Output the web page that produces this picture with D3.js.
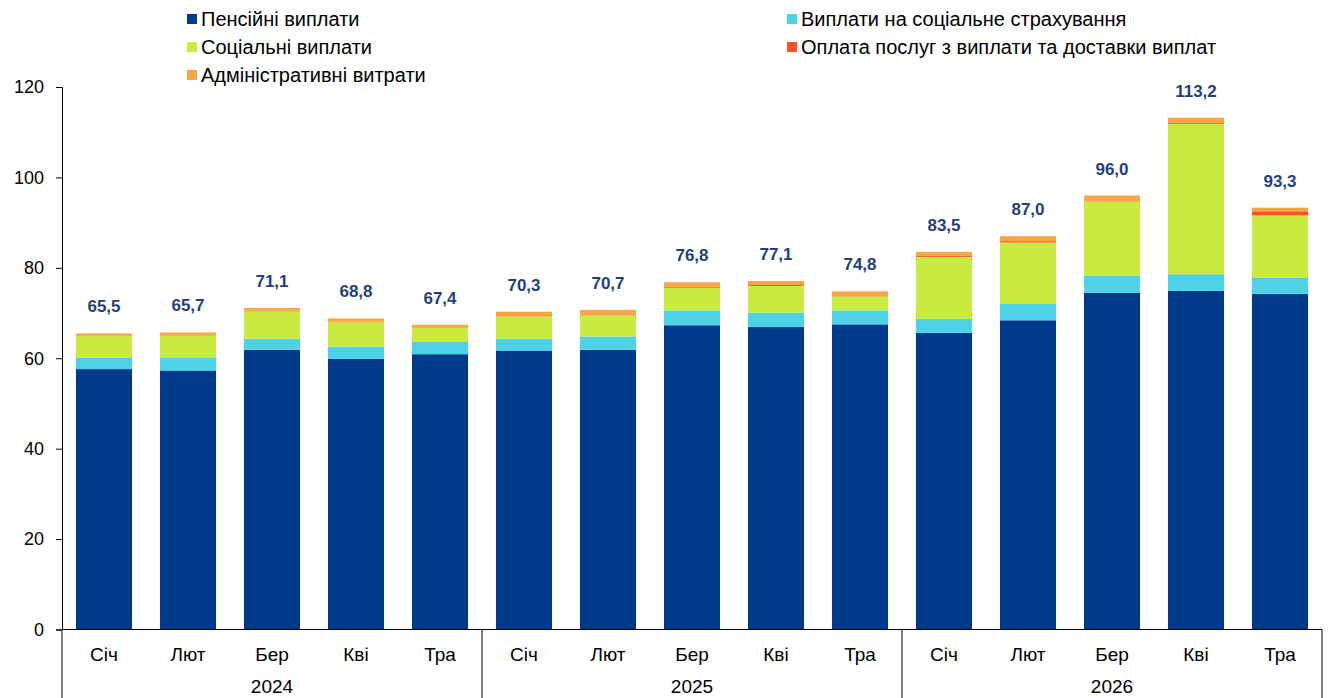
<!DOCTYPE html>
<html><head><meta charset="utf-8">
<script src="https://cdn.jsdelivr.net/npm/d3@7"></script>
<style>body{margin:0;background:#fff}svg{display:block;font-family:"Liberation Sans",Arial,sans-serif}</style>
</head><body><svg id="c" width="1329" height="698"></svg>
<script>
const months = ["Січ","Лют","Бер","Кві","Тра","Січ","Лют","Бер","Кві","Тра","Січ","Лют","Бер","Кві","Тра"];
const years = ["2024","2025","2026"];
const seriesNames = ["Пенсійні виплати","Виплати на соціальне страхування","Соціальні виплати","Оплата послуг з виплати та доставки виплат","Адміністративні витрати"];
const seriesColors = ["#003a8c","#4dd2e6","#c9ea3e","#ff5028","#f8a640"];
const pension   = [57.6,57.3,61.9,59.9,60.9, 61.7,61.9,67.3,66.9,67.5, 65.6,68.4,74.5,74.9,74.2];
const insurance = [2.5,2.9,2.4,2.7,2.7, 2.6,2.9,3.3,3.2,3.1, 3.1,3.6,3.8,3.7,3.6];
const social    = [4.8,4.8,6.1,5.4,3.2, 5.0,4.7,5.0,5.9,3.1, 13.7,13.6,16.4,33.2,13.8];
const services  = [0.1,0.1,0.1,0.1,0.1, 0.2,0.2,0.2,0.2,0.2, 0.2,0.3,0.2,0.2,0.9];
const admin     = [0.5,0.6,0.6,0.7,0.5, 0.8,1.0,1.0,0.9,0.9, 0.9,1.1,1.1,1.2,0.8];
const totals    = ["65,5","65,7","71,1","68,8","67,4","70,3","70,7","76,8","77,1","74,8","83,5","87,0","96,0","113,2","93,3"];
const yTicks = [0,20,40,60,80,100,120];

const svg = d3.select("#c");
const mLeft = 62, mRight = 1322, mTop = 87, mBottom = 629.5;
const idx = months.map((m,i)=>i);
const x = d3.scaleBand().domain(idx).range([mLeft,mRight]).paddingInner(0.333).paddingOuter(0.1665);
const y = d3.scaleLinear().domain([0,120]).range([mBottom,mTop]);

const data = idx.map(i=>({i, s0:pension[i], s1:insurance[i], s2:social[i], s3:services[i], s4:admin[i]}));
const stack = d3.stack().keys(["s0","s1","s2","s3","s4"])(data);

svg.append("g").selectAll("g").data(stack).join("g")
  .attr("fill",(d,k)=>seriesColors[k])
  .selectAll("rect").data(d=>d).join("rect")
  .attr("x",d=>x(d.data.i)).attr("width",x.bandwidth())
  .attr("y",d=>y(d[1])).attr("height",d=>y(d[0])-y(d[1]));

// totals labels
svg.append("g").selectAll("text").data(data).join("text")
  .attr("x",d=>x(d.i)+x.bandwidth()/2)
  .attr("y",d=>y(d.s0+d.s1+d.s2+d.s3+d.s4)-21)
  .attr("text-anchor","middle").attr("font-size",17).attr("font-weight","bold").attr("fill","#1f3f7f")
  .text(d=>totals[d.i]);

// y axis
const ya = svg.append("g").attr("transform",`translate(${mLeft},0)`)
  .call(d3.axisLeft(y).tickValues(yTicks).tickSize(6).tickPadding(12).tickFormat(d3.format("d")));
ya.select(".domain").attr("stroke","#000");
ya.selectAll("line").attr("stroke","#000");
ya.selectAll("text").attr("font-size",18).attr("font-family","Liberation Sans, Arial").attr("fill","#000");

// x axis
const xa = svg.append("g");
xa.append("line").attr("x1",mLeft).attr("x2",mRight).attr("y1",mBottom).attr("y2",mBottom).attr("stroke","#000");
xa.selectAll("text.m").data(idx).join("text").attr("class","m")
  .attr("x",i=>x(i)+x.bandwidth()/2).attr("y",661)
  .attr("text-anchor","middle").attr("font-size",19).attr("fill","#000").text(i=>months[i]);
const groupEdges = [0,5,10,15].map(k=>mLeft+(mRight-mLeft)*k/15);
xa.selectAll("line.sep").data(groupEdges).join("line").attr("class","sep")
  .attr("x1",d=>d).attr("x2",d=>d).attr("y1",mBottom).attr("y2",698).attr("stroke","#000");
xa.selectAll("text.yr").data(years).join("text").attr("class","yr")
  .attr("x",(d,k)=>(groupEdges[k]+groupEdges[k+1])/2).attr("y",693)
  .attr("text-anchor","middle").attr("font-size",19).attr("fill","#000").text(d=>d);

// legend
const legPos = [[187,19],[787,19],[187,47],[787,47],[187,75]];
const leg = svg.append("g").selectAll("g").data(seriesNames).join("g")
  .attr("transform",(d,k)=>`translate(${legPos[k][0]},${legPos[k][1]})`);
leg.append("rect").attr("x",0).attr("y",-5).attr("width",10).attr("height",10).attr("fill",(d,k)=>seriesColors[k]);
leg.append("text").attr("x",14).attr("y",7).attr("font-size",20).attr("fill","#000").text(d=>d);
</script></body></html>
